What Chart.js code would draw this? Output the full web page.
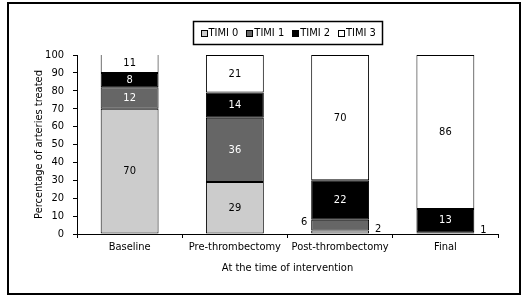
<!DOCTYPE html>
<html lang="en">
<head>
  <meta charset="UTF-8" />
  <title>TIMI flow by time of intervention</title>
  <script src="https://cdn.jsdelivr.net/npm/chart.js"></script>
  <style>
    html, body { margin: 0; padding: 0; background: #fff; }
    canvas { display: block; }
  </style>
</head>
<body>
  <canvas id="timiChart" width="528" height="302"></canvas>

  <script>
    // data (percent of arteries)
    const categories = ['Baseline', 'Pre-thrombectomy', 'Post-thrombectomy', 'Final'];
    const seriesNames = ['TIMI 0', 'TIMI 1', 'TIMI 2', 'TIMI 3'];
    const timi0 = [70, 29, 2, 0];
    const timi1 = [12, 36, 6, 1];
    const timi2 = [8, 14, 22, 13];
    const timi3 = [11, 21, 70, 86];
    const yTicks = [0, 10, 20, 30, 40, 50, 60, 70, 80, 90, 100];

    const fills = ['#cccccc', '#666666', '#000000', '#ffffff'];
    const labelColors = ['#000000', '#ffffff', '#ffffff', '#000000'];
    const FONT = "'Liberation Sans Narrow', 'Arial Narrow', 'DejaVu Sans Condensed', sans-serif";
    const FS = 11;

    // small segments get their number outside the bar
    function outsideSide(di, i) {
      return (di === 1 && i === 2) ? 'left' : 'right';
    }

    const valueLabels = {
      id: 'valueLabels',
      afterDatasetsDraw(chart) {
        const ctx = chart.ctx;
        ctx.save();
        ctx.font = FS + 'px ' + FONT;
        ctx.textBaseline = 'middle';
        chart.data.datasets.forEach((ds, di) => {
          chart.getDatasetMeta(di).data.forEach((bar, i) => {
            const v = ds.data[i];
            if (!v) return;
            const p = bar.getProps(['x', 'y', 'base', 'width'], true);
            const mid = (p.y + p.base) / 2;
            if (v >= 7) {
              ctx.fillStyle = labelColors[di];
              ctx.textAlign = 'center';
              ctx.fillText(v, p.x, mid);
            } else if (outsideSide(di, i) === 'left') {
              ctx.fillStyle = '#000';
              ctx.textAlign = 'right';
              ctx.fillText(v, p.x - p.width / 2 - 4, mid - 3);
            } else {
              ctx.fillStyle = '#000';
              ctx.textAlign = 'left';
              ctx.fillText(v, p.x + p.width / 2 + 6, mid - 3);
            }
          });
        });
        ctx.restore();
      }
    };

    // boxed legend + outer frame
    const frameAndLegend = {
      id: 'frameAndLegend',
      afterDraw(chart) {
        const ctx = chart.ctx;
        ctx.save();
        ctx.strokeStyle = '#000';
        ctx.lineWidth = 2;
        ctx.strokeRect(8, 3, 512, 291);

        ctx.font = FS + 'px ' + FONT;
        ctx.textBaseline = 'middle';
        ctx.textAlign = 'left';
        const sq = 6, gapSq = 2, gapItem = 8, padX = 7;
        const widths = seriesNames.map(n => ctx.measureText(n).width);
        let total = widths.reduce((a, b) => a + b, 0) + seriesNames.length * (sq + gapSq) + gapItem * (seriesNames.length - 1);
        const boxW = Math.round(total + padX * 2);
        const cx = (chart.chartArea.left + chart.chartArea.right) / 2;
        const boxX = Math.round(cx - boxW / 2) + 0.5;
        const boxY = 21.5, boxH = 23;
        ctx.lineWidth = 1.5;
        ctx.strokeRect(boxX, boxY, boxW, boxH);

        const cy = boxY + boxH / 2;
        let x = boxX + padX;
        ctx.lineWidth = 1;
        seriesNames.forEach((n, k) => {
          ctx.fillStyle = fills[k];
          ctx.fillRect(Math.round(x) + 0.5, Math.round(cy - sq / 2) + 0.5, sq, sq);
          ctx.strokeStyle = '#000';
          ctx.strokeRect(Math.round(x) + 0.5, Math.round(cy - sq / 2) + 0.5, sq, sq);
          x += sq + gapSq;
          ctx.fillStyle = '#000';
          ctx.fillText(n, x, cy + 0.5);
          x += widths[k] + gapItem;
        });
        ctx.restore();
      }
    };

    const seriesData = [timi0, timi1, timi2, timi3];

    new Chart(document.getElementById('timiChart'), {
      type: 'bar',
      data: {
        labels: categories,
        datasets: seriesNames.map((name, k) => ({
          label: name,
          data: seriesData[k],
          backgroundColor: fills[k],
          borderColor: '#000000',
          borderWidth: 1,
          borderSkipped: false,
          barPercentage: 0.55,
          categoryPercentage: 1
        }))
      },
      options: {
        responsive: false,
        animation: false,
        layout: { padding: { left: 28, right: 30, top: 55, bottom: 0 } },
        plugins: {
          legend: { display: false },
          tooltip: { enabled: false }
        },
        scales: {
          x: {
            stacked: true,
            grid: { drawOnChartArea: false, drawTicks: true, tickLength: 4, color: '#000', offset: true },
            border: { display: true, color: '#000', width: 1 },
            ticks: { color: '#000', font: { family: FONT, size: FS }, padding: 3, maxRotation: 0, autoSkip: false },
            title: {
              display: true,
              text: 'At the time of intervention',
              color: '#000',
              font: { family: FONT, size: FS },
              padding: { top: 4, bottom: 27 }
            },
            afterFit: s => { s.height = 68; }
          },
          y: {
            stacked: true,
            min: 0,
            max: 100,
            afterBuildTicks: s => { s.ticks = yTicks.map(v => ({ value: v })); },
            grid: { drawOnChartArea: false, drawTicks: true, tickLength: 4, color: '#000' },
            border: { display: true, color: '#000', width: 1 },
            ticks: { color: '#000', font: { family: FONT, size: FS }, padding: 9 },
            title: {
              display: true,
              text: 'Percentage of arteries treated',
              color: '#000',
              font: { family: FONT, size: FS },
              padding: { top: 5, bottom: 0 }
            },
            afterFit: s => { s.width = 49; }
          }
        }
      },
      plugins: [valueLabels, frameAndLegend]
    });
  </script>
</body>
</html>
